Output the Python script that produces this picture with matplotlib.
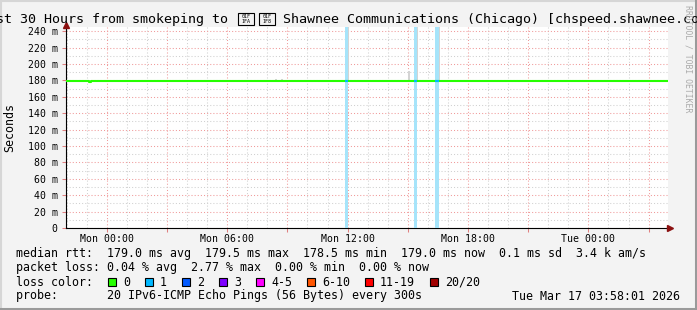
import matplotlib
matplotlib.use('Agg')
import matplotlib.pyplot as plt
from matplotlib.patches import Rectangle
from matplotlib.lines import Line2D

W, H = 697, 310
MONO = 'DejaVu Sans Mono'

# time window in hours relative to Mon 00:00 (last 30 h up to Tue 03:58)
t_start, t_end = -2.033, 27.967
tick_hours = [0, 6, 12, 18, 24]
tick_labels = ['Mon 00:00', 'Mon 06:00', 'Mon 12:00', 'Mon 18:00', 'Tue 00:00']
ytick_ms = [0, 20, 40, 60, 80, 100, 120, 140, 160, 180, 200, 220, 240]

# median rtt (ms), breakpoints of the step line
median_hours = [-2.033, -0.88, -0.80, 27.967]
median_ms = [179.0, 177.5, 179.0, 179.0]

# packet loss events
loss_hours = [11.94, 15.38, 16.45]
loss_widths = [0.15, 0.15, 0.20]
loss_counts = [1, 1, 1]

# smoke (spread of the pings)
smoke_hours = [12.02, 15.45, 16.54, 15.07, 8.45, 8.75]
smoke_low = [179, 179, 179, 179, 180, 180]
smoke_high = [250, 250, 250, 191, 182, 182]

loss_labels = ['0', '1', '2', '3', '4-5', '6-10', '11-19', '20/20']
loss_colors = ['#26ff00', '#00b8ff', '#0059ff', '#7e00ff',
               '#ff00ff', '#ff5500', '#ff0000', '#a10000']

# the flag in the target name has no glyph in any font: drawn as hex boxes
flag_codes = ['01F\n1FA', '01F\n1F8']

stats_rtt = 'median rtt:  179.0 ms avg  179.5 ms max  178.5 ms min  179.0 ms now  0.1 ms sd  3.4 k am/s'
stats_loss = 'packet loss: 0.04 % avg  2.77 % max  0.00 % min  0.00 % now'
probe_text = 'probe:       20 IPv6-ICMP Echo Pings (56 Bytes) every 300s'
date_text = 'Tue Mar 17 03:58:01 2026'


def fx(px):
    return px / W


def fy(py):
    return 1 - py / H


fig = plt.figure(figsize=(W / 100, H / 100), dpi=100, facecolor='#f3f3f3')
ax = fig.add_axes([fx(66), fy(228), 602 / W, 201 / H])
ax.set_facecolor('white')
ax.set_xlim(t_start, t_end)
ax.set_ylim(0, 245)

# grid: red every 3 h / 20 ms, grey every 1 h / 10 ms
ax.set_xticks(range(0, 28, 3))
ax.set_xticks(range(-2, 28), minor=True)
ax.set_xticklabels([tick_labels[tick_hours.index(h)] if h in tick_hours else ''
                    for h in range(0, 28, 3)])
ax.set_yticks(ytick_ms)
ax.set_yticks(range(0, 245, 10), minor=True)
ax.set_yticklabels([f'{v} m' if v else '0' for v in ytick_ms])
ax.set_axisbelow(True)
ax.grid(which='minor', color='#d0d0d0', linestyle=(0, (1, 2)), linewidth=0.75)
ax.grid(which='major', color='#f09a9a', linestyle=(0, (1, 2)), linewidth=0.75)
ax.tick_params(which='major', length=3, width=0.75, color='#e08080',
               labelsize=7.1, pad=3)
ax.tick_params(which='minor', length=0)
ax.tick_params(axis='x', pad=1)
for lab in ax.get_xticklabels() + ax.get_yticklabels():
    lab.set_family(MONO)

for s in ['top', 'right']:
    ax.spines[s].set_visible(False)
for s in ['left', 'bottom']:
    ax.spines[s].set_color('black')
    ax.spines[s].set_linewidth(0.8)

# axis arrows
ax.plot([1.004], [0], marker='>', ms=5, color='#8b1010', transform=ax.transAxes,
        clip_on=False, zorder=5)
ax.plot([0], [1.012], marker='^', ms=5, color='#8b1010', transform=ax.transAxes,
        clip_on=False, zorder=5)

# smoke
ax.bar(smoke_hours, [h - l for h, l in zip(smoke_high, smoke_low)], bottom=smoke_low,
       width=0.1, color='#d4d4d4', linewidth=0, zorder=2)

# loss bands
for h, w, c in zip(loss_hours, loss_widths, loss_counts):
    ax.axvspan(h - w / 2, h + w / 2, color='#a6e4fa', linewidth=0, zorder=3)

# median line
ax.plot(median_hours, median_ms, drawstyle='steps-post', color=loss_colors[0],
        lw=1.5, zorder=4)
for h, w, c in zip(loss_hours, loss_widths, loss_counts):
    ax.hlines(median_ms[-1], h - w / 2, h + w / 2, color=loss_colors[c], lw=1.5, zorder=4)

# title
fig.text(fx(228.5), fy(19), 'Last 30 Hours from smokeping to', ha='right', va='center',
         family=MONO, fontsize=9.63)
bx = 238
for code in flag_codes:
    fig.add_artist(Rectangle((fx(bx), fy(25)), 16 / W, 12 / H, transform=fig.transFigure,
                             facecolor='none', edgecolor='black', linewidth=0.8))
    fig.text(fx(bx + 8), fy(19), code, ha='center', va='center', family=MONO,
             fontsize=3.6, linespacing=1.0)
    bx += 21
fig.text(fx(283.4), fy(19), 'Shawnee Communications (Chicago) [chspeed.shawnee.com]',
         ha='left', va='center', family=MONO, fontsize=9.63)

fig.text(fx(10), fy(127), 'Seconds', rotation=90, ha='center', va='center',
         family=MONO, fontsize=8.4)
fig.text(fx(688), fy(5), 'RRDTOOL / TOBI OETIKER', rotation=270, ha='center', va='top',
         family=MONO, fontsize=5.9, color='#aaaaaa')

# legend / statistics
fig.text(fx(16), fy(254), stats_rtt, va='center', family=MONO, fontsize=8.4)
fig.text(fx(16), fy(268), stats_loss, va='center', family=MONO, fontsize=8.4)
fig.text(fx(16), fy(282), 'loss color:', va='center', family=MONO, fontsize=8.4)
fig.text(fx(16), fy(296), probe_text, va='center', family=MONO, fontsize=8.4)
fig.text(fx(680), fy(296), date_text, ha='right', va='center', family=MONO, fontsize=8.4)

sq = 108
for lab, col in zip(loss_labels, loss_colors):
    fig.add_artist(Rectangle((fx(sq), fy(286)), 8 / W, 8 / H, transform=fig.transFigure,
                             facecolor=col, edgecolor='black', linewidth=0.8))
    fig.text(fx(sq + 15), fy(282), lab, va='center', family=MONO, fontsize=8.4)
    sq += 7 * len(lab) + 30

# 3d-ish frame
fig.add_artist(Line2D([0, 1], [fy(0.8)] * 2, color='#d6d6d6', lw=1.5, transform=fig.transFigure))
fig.add_artist(Line2D([fx(0.8)] * 2, [0, 1], color='#d6d6d6', lw=1.5, transform=fig.transFigure))
fig.add_artist(Line2D([0, 1], [fy(308.8)] * 2, color='#9a9a9a', lw=2.2, transform=fig.transFigure))
fig.add_artist(Line2D([fx(695.8)] * 2, [0, 1], color='#9a9a9a', lw=2.2, transform=fig.transFigure))

fig.savefig('out.png', dpi=100, facecolor=fig.get_facecolor())
